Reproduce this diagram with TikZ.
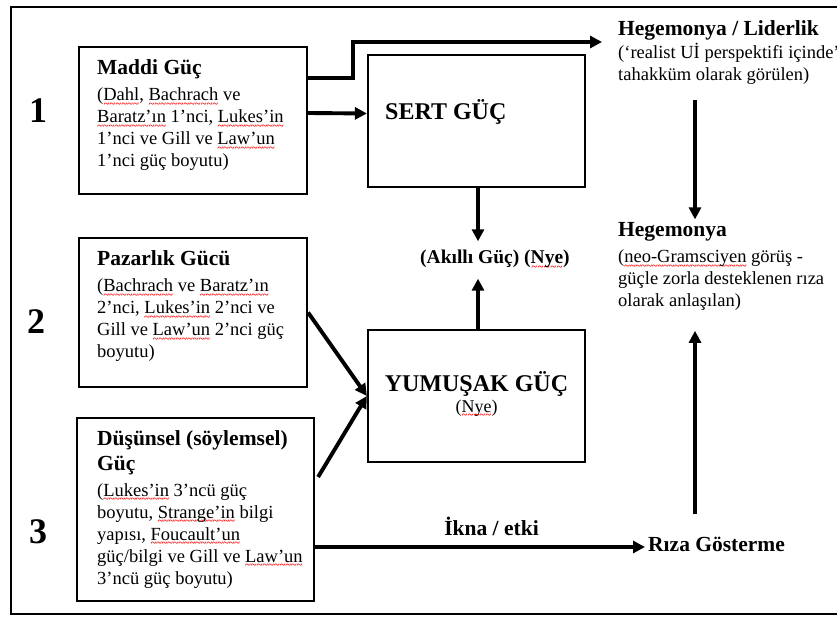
\documentclass[tikz,border=0pt]{standalone}
\usepackage{fontspec}
\setmainfont{Liberation Serif}
\usetikzlibrary{arrows.meta,positioning}
\newcommand{\spell}[1]{\setbox0=\hbox{#1}\rlap{\lower6.5pt\hbox to \wd0{\color{red}\fontsize{10.5}{10.5}\selectfont\bfseries\xleaders\hbox{\char"7E}\hfill}}\box0\relax}
\newcommand{\ttl}[1]{{\fontsize{21.5}{25}\selectfont\bfseries #1}}

\begin{document}
\begin{tikzpicture}[
  x=1pt, y=-1pt,
  frame/.style={line width=2.4pt},
  box/.style={draw, line width=2.2pt, inner sep=0pt},
  boxtext/.style={anchor=north west, inner sep=0pt, align=left, font=\fontsize{18.5}{22}\selectfont},
  sidetext/.style={anchor=north west, inner sep=0pt, align=left, font=\fontsize{18.5}{22}\selectfont},
  num/.style={anchor=base west, inner sep=0pt, font=\fontsize{36}{40}\selectfont\bfseries},
  big/.style={inner sep=0pt, font=\fontsize{24}{28}\selectfont\bfseries},
  arr/.style={-{Triangle[length=12pt,width=12pt]}, line width=3.9pt}
]
\clip (0,0) rectangle (837,617);
\fill[white] (0,0) rectangle (837,617);
\draw[frame] (850,7) -- (11,7) -- (11,614) -- (850,614);

% levels
\node[num] (n1) at (29,123) {1};
\node[num] (n2) at (27,333) {2};
\node[num] (n3) at (29,543) {3};

% left column
\node[box, minimum width=228pt, minimum height=147pt] (maddi) at (193,120.5) {};
\node[boxtext] (maddit) at (97,59.4) {\ttl{Maddi Güç}\\[4pt]
  (\spell{Dahl}, \spell{Bachrach} ve\\
  \spell{Baratz’ın} 1’nci, \spell{Lukes’in}\\
  1’nci ve Gill ve \spell{Law’un}\\
  1’nci güç boyutu)};

\node[box, minimum width=228pt, minimum height=149pt] (pazarlik) at (193,312.5) {};
\node[boxtext] (pazarlikt) at (97,250.5) {\ttl{Pazarlık Gücü}\\[4pt]
  (\spell{Bachrach} ve \spell{Baratz’ın}\\
  2’nci, \spell{Lukes’in} 2’nci ve\\
  Gill ve \spell{Law’un} 2’nci güç\\
  boyutu)};

\node[box, minimum width=237pt, minimum height=183pt] (dus) at (195.5,509.5) {};
\node[boxtext] (dust) at (97,430.1) {\ttl{Düşünsel (söylemsel)}\\[3pt]
  \ttl{Güç}\\[4pt]
  (\spell{Lukes’in} 3’ncü güç\\
  boyutu, \spell{Strange’in} bilgi\\
  yapısı, \spell{Foucault’un}\\
  güç/bilgi ve Gill ve \spell{Law’un}\\
  3’ncü güç boyutu)};

% middle column
\node[box, minimum width=217pt, minimum height=132pt] (sert) at (476.5,121) {};
\node[big, anchor=base west] (sertt) at (385,120) {SERT GÜÇ};

\node[box, minimum width=217pt, minimum height=132pt] (yum) at (476.5,396) {};
\node[big, anchor=north, align=center, font=\fontsize{18}{21}\selectfont] (yumt) at (476.5,371)
  {{\fontsize{24}{28}\selectfont\bfseries YUMUŞAK GÜÇ}\\(\spell{Nye})};

\node[inner sep=0pt, anchor=base west, font=\fontsize{19.5}{23}\selectfont\bfseries] (akilli) at (420,264)
  {(Akıllı Güç) (\spell{Nye})};

% right column
\node[sidetext] (heglid) at (618,20.4) {\ttl{Hegemonya / Liderlik}\\[1pt]
  (‘realist Uİ perspektifi içinde’\\
  tahakküm olarak görülen)};
\node[sidetext] (heg) at (618,222.4) {\ttl{Hegemonya}\\[4pt]
  (\spell{neo-Gramsciyen} görüş -\\
  güçle zorla desteklenen rıza\\
  olarak anlaşılan)};
\node[inner sep=0pt, anchor=base west, font=\fontsize{21.5}{25}\selectfont\bfseries] (riza) at (648,551) {Rıza Gösterme};

\coordinate (ltip) at (602,42);
\coordinate (axis) at ([xshift=1.5pt]sert.south);
\coordinate (ikna) at ([yshift=4pt]riza.base west);

% connectors
\draw[arr] ([yshift=7.5pt]maddi.east) -- ([yshift=7.5pt]sert.west);
\draw[arr] ([yshift=42.5pt]maddi.east) -- ++(45pt,0pt) |- (ltip);
\draw[arr, shorten >=9pt] (axis) -- (axis |- akilli.north);
\draw[arr, shorten >=8pt] (axis |- yum.north) -- (axis |- akilli.south);
\draw[arr] (pazarlik.east) -- (yum.west);
\draw[arr] ([shift={(3pt,32.5pt)}]dus.east) -- (yum.west);
\draw[arr, shorten >=3pt] (dus.east |- ikna) -- (ikna)
  node[pos=0.53, above=6pt, font=\fontsize{21.5}{25}\selectfont\bfseries] (iknat) {İkna / etki};
\draw[arr] ([xshift=77pt,yshift=-15pt]heglid.south west) -- ([xshift=77pt,yshift=3pt]heg.north west);
\draw[arr] ([xshift=47pt,yshift=22pt]riza.north west) -- ([xshift=77pt,yshift=-20pt]heg.south west);
\end{tikzpicture}
\end{document}
